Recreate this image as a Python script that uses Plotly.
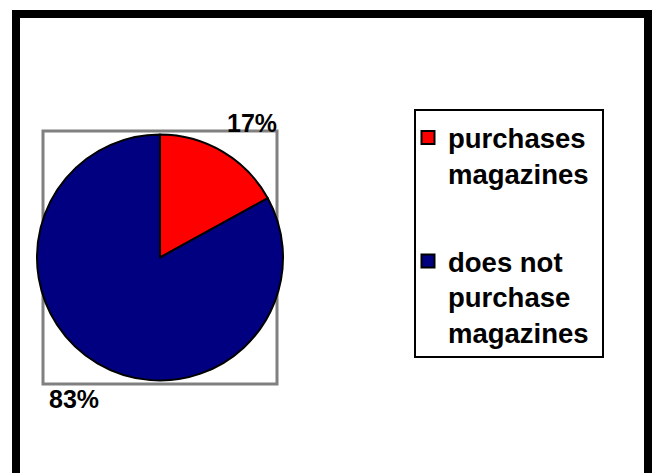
import plotly.graph_objects as go

# Survey share of respondents by magazine purchasing habit
categories = ["purchases<br>magazines", "does not<br>purchase<br>magazines"]
shares = [17, 83]
colors = ["#FF0000", "#000080"]

W, H = 658, 473

def px_x(x):
    return x / W

def px_y(y):
    return 1 - y / H

total = sum(shares)
pct = [f"{round(v / total * 100)}%" for v in shares]

fig = go.Figure()
cx, cy, d = 160, 257.5, 246
fig.add_trace(go.Pie(
    labels=categories,
    values=shares,
    sort=False,
    direction="clockwise",
    rotation=0,
    textinfo="none",
    hoverinfo="label+percent",
    showlegend=False,
    marker=dict(colors=colors, line=dict(color="black", width=2)),
    domain=dict(x=[px_x(cx - d / 2), px_x(cx + d / 2)],
                y=[px_y(cy + d / 2), px_y(cy - d / 2)]),
))

# legend keys, one group per category so the gap between them can be set
for i, (name, col) in enumerate(zip(categories, colors)):
    fig.add_trace(go.Scatter(
        x=[None], y=[None], mode="markers", name=name,
        legendgroup=f"g{i}", hoverinfo="skip",
        marker=dict(symbol="square", size=13, color=col,
                    line=dict(color="black", width=2)),
    ))

label_font = dict(family="Liberation Sans, Arial", size=25, color="black", weight="bold")
fig.add_annotation(x=px_x(252), y=px_y(123), xref="paper", yref="paper",
                   xanchor="center", yanchor="middle",
                   text=pct[0], showarrow=False, font=label_font)
fig.add_annotation(x=px_x(74), y=px_y(399), xref="paper", yref="paper",
                   xanchor="center", yanchor="middle",
                   text=pct[1], showarrow=False, font=label_font)

# plot-area frame, legend frame and outer chart border
fig.add_shape(type="rect", xref="paper", yref="paper",
              x0=px_x(43), x1=px_x(277), y0=px_y(384), y1=px_y(131),
              line=dict(color="#808080", width=3), layer="below")
fig.add_shape(type="rect", xref="paper", yref="paper",
              x0=px_x(415), x1=px_x(603), y0=px_y(357), y1=px_y(110),
              line=dict(color="black", width=2), layer="below")
fig.add_shape(type="rect", xref="paper", yref="paper",
              x0=px_x(16), x1=px_x(648), y0=px_y(490), y1=px_y(14),
              line=dict(color="black", width=8))

fig.update_layout(
    width=W, height=H,
    margin=dict(l=0, r=0, t=0, b=0),
    paper_bgcolor="white",
    plot_bgcolor="white",
    xaxis=dict(visible=False),
    yaxis=dict(visible=False),
    showlegend=True,
    legend=dict(
        x=px_x(408), y=px_y(113), xanchor="left", yanchor="top",
        bgcolor="rgba(0,0,0,0)", borderwidth=0,
        font=dict(family="Liberation Sans, Arial", size=27.5, color="black", weight="bold"),
        valign="top", traceorder="grouped", tracegroupgap=49,
    ),
)

fig.write_html("out.html")
